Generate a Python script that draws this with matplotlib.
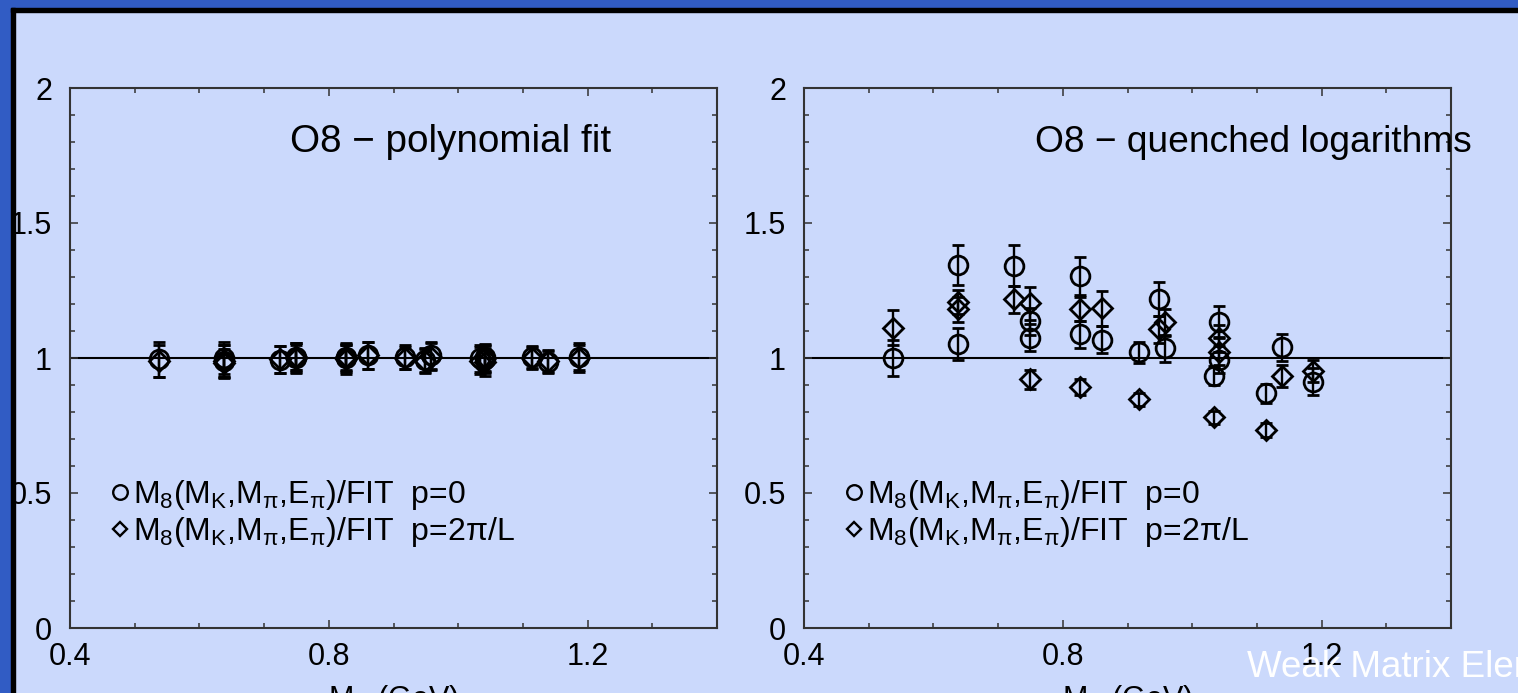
import matplotlib
matplotlib.use("Agg")
import matplotlib.pyplot as plt
from matplotlib.lines import Line2D
from matplotlib.patches import Rectangle
from matplotlib.ticker import FixedLocator, MultipleLocator, FuncFormatter

plt.rcParams['font.family'] = ['Liberation Sans', 'DejaVu Sans']
plt.rcParams['mathtext.fontset'] = 'custom'
plt.rcParams['mathtext.rm'] = 'Liberation Sans'
plt.rcParams['mathtext.it'] = 'Liberation Sans:italic'
plt.rcParams['mathtext.default'] = 'regular'

# M_K (GeV) of each data point (shared by both panels)
mk = [0.538, 0.638, 0.638, 0.725, 0.749, 0.749, 0.827, 0.827, 0.860,
      0.918, 0.949, 0.958, 1.034, 1.041, 1.041, 1.114, 1.139, 1.187]

# O8 - polynomial fit
circ_poly = [0.995, 1.000, 0.990, 0.993, 1.005, 1.000, 1.003, 1.000, 1.011,
             1.005, 0.993, 1.011, 1.000, 1.003, 0.995, 1.003, 0.985, 1.005]
circ_poly_err = [0.065, 0.06, 0.06, 0.05, 0.05, 0.05, 0.05, 0.05, 0.05,
                 0.045, 0.045, 0.05, 0.05, 0.05, 0.05, 0.04, 0.04, 0.05]
diam_poly = [0.990, 0.990, 0.980, 0.995, 1.000, 1.005, 0.995, 1.005, 1.010,
             1.000, 0.990, 1.005, 0.990, 1.000, 0.985, 1.000, 0.990, 1.000]
diam_poly_err = [0.06, 0.06, 0.055, 0.05, 0.055, 0.05, 0.055, 0.05, 0.05,
                 0.04, 0.045, 0.05, 0.05, 0.05, 0.05, 0.04, 0.04, 0.05]

# O8 - quenched logarithms
circ_log = [1.000, 1.344, 1.051, 1.342, 1.137, 1.075, 1.304, 1.088, 1.067,
            1.021, 1.218, 1.036, 0.935, 1.135, 0.993, 0.869, 1.039, 0.912]
circ_log_err = [0.065, 0.075, 0.06, 0.075, 0.05, 0.05, 0.07, 0.05, 0.05,
                0.04, 0.063, 0.05, 0.035, 0.058, 0.05, 0.035, 0.05, 0.05]
diam_log = [1.112, 1.208, 1.180, 1.217, 1.202, 0.921, 1.181, 0.894, 1.184,
            0.847, 1.107, 1.132, 0.780, 1.073, 1.023, 0.733, 0.933, 0.952]
diam_log_err = [0.065, 0.045, 0.045, 0.05, 0.06, 0.035, 0.045, 0.03, 0.065,
                0.025, 0.05, 0.05, 0.025, 0.05, 0.05, 0.025, 0.04, 0.04]

titles = ['O8 \u2212 polynomial fit', 'O8 \u2212 quenched logarithms']
title_x = [0.34, 0.357]
title_size = [27.8, 26.7]
labels = [r'M$_8$(M$_K$,M$_\pi$,E$_\pi$)/FIT  p=0',
          r'M$_8$(M$_K$,M$_\pi$,E$_\pi$)/FIT  p=2$\pi$/L']
x_ticks = [0.4, 0.8, 1.2]
y_ticks = [0, 0.5, 1, 1.5, 2]

BG = '#CBD9FC'
BLUE = '#315CC4'
W, H = 1518, 693

fig = plt.figure(figsize=(W / 100, H / 100), dpi=100, facecolor=BG)
ax_l = fig.add_axes([70 / W, 65 / H, 647 / W, 540 / H])
ax_r = fig.add_axes([804 / W, 65 / H, 647 / W, 540 / H])

panels = [
    (ax_l, circ_poly, circ_poly_err, diam_poly, diam_poly_err),
    (ax_r, circ_log, circ_log_err, diam_log, diam_log_err),
]

fmt = FuncFormatter(lambda v, pos: f'{v:g}')

for i, (ax, cy, ce, dy, de) in enumerate(panels):
    ax.set_facecolor('none')
    ax.axhline(1, color='black', lw=1.5, zorder=1)
    ax.errorbar(mk, cy, yerr=ce, fmt='o', ms=13.5, mfc='none', mec='black', mew=2.0,
                ecolor='black', elinewidth=1.7, capsize=4.5, capthick=1.8, zorder=3)
    ax.errorbar(mk, dy, yerr=de, fmt='D', ms=10.3, mfc='none', mec='black', mew=2.0,
                ecolor='black', elinewidth=1.7, capsize=4.5, capthick=1.8, zorder=3)

    ax.set_xlim(0.4, 1.4)
    ax.set_ylim(0, 2)
    ax.xaxis.set_major_locator(FixedLocator(x_ticks))
    ax.xaxis.set_minor_locator(MultipleLocator(0.1))
    ax.yaxis.set_major_locator(FixedLocator(y_ticks))
    ax.yaxis.set_minor_locator(MultipleLocator(0.1))
    ax.xaxis.set_major_formatter(fmt)
    ax.yaxis.set_major_formatter(fmt)
    ax.tick_params(which='both', direction='in', top=True, right=True,
                   width=1.1, color='#333333', labelsize=22)
    ax.tick_params(which='major', length=6)
    ax.tick_params(which='minor', length=3.5)
    ax.tick_params(axis='y', pad=13)
    ax.tick_params(axis='x', pad=10)
    for sp in ax.spines.values():
        sp.set_color('#333333')
        sp.set_linewidth(1.5)

    ax.text(title_x[i], 0.881, titles[i], transform=ax.transAxes,
            fontsize=title_size[i], ha='left', va='baseline')

    handles = [
        Line2D([], [], ls='none', marker='o', ms=10.5, mfc='none', mec='black', mew=1.7),
        Line2D([], [], ls='none', marker='D', ms=7.5, mfc='none', mec='black', mew=1.7),
    ]
    ax.legend(handles, labels, loc='upper left', bbox_to_anchor=(0.062, 0.278),
              frameon=False, fontsize=23, handlelength=0.6, handletextpad=0.12,
              labelspacing=0.1, borderpad=0, borderaxespad=0)

    ax.set_xlabel(r'M$_K$ (GeV)', fontsize=22, labelpad=8)

fig.text(1247 / W, (H - 677) / H, 'Weak Matrix Elements', color='white',
         fontsize=26.5, ha='left', va='baseline')

# slide frame
for r in [
    Rectangle((0, 0), 11 / W, 1, color=BLUE),
    Rectangle((0, 1 - 8 / H), 1, 8 / H, color=BLUE),
    Rectangle((11 / W, 0), 4 / W, 1 - 8 / H, color='black'),
    Rectangle((11 / W, 1 - 12 / H), 1 - 11 / W, 4 / H, color='black'),
]:
    r.set_transform(fig.transFigure)
    r.set_zorder(10)
    fig.patches.append(r)

fig.savefig('out.png', dpi=100, facecolor=BG)
